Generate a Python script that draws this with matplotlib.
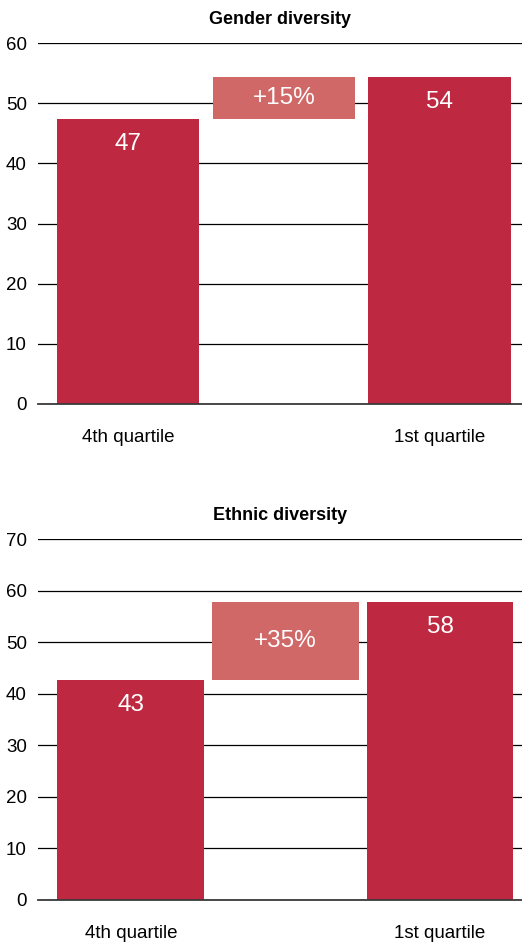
import matplotlib.pyplot as plt

plt.rcParams['font.family'] = ['Liberation Sans', 'DejaVu Sans']

# data
categories = ["4th quartile", "1st quartile"]
gender_values = [47.3, 54.4]
gender_labels = ["47", "54"]
gender_uplift = "+15%"
ethnic_values = [42.6, 57.8]
ethnic_labels = ["43", "58"]
ethnic_uplift = "+35%"

BAR = "#BE2840"
BOX = "#CF6866"


def draw_panel(ax, title, values, labels, uplift, ymax, width, xlim):
    # bars at 0 and 2, uplift box between them at 1
    ax.bar([0, 2], values, width=width, color=BAR, zorder=3)
    ax.bar(1, values[1] - values[0], bottom=values[0], width=width,
           color=BOX, zorder=3)
    ax.text(1, (values[0] + values[1]) / 2, uplift, ha="center", va="center",
            color="white", fontsize=17.5, zorder=4)
    for x, v, lab in zip([0, 2], values, labels):
        ax.annotate(lab, (x, v), xytext=(0, -18), textcoords="offset points",
                    ha="center", va="center", color="white", fontsize=17.5, zorder=4)

    ax.set_ylim(0, ymax)
    ax.set_yticks(range(0, ymax + 1, 10))
    ax.set_xlim(*xlim)
    ax.set_xticks([0, 2])
    ax.set_xticklabels(categories)
    ax.yaxis.grid(True, color="black", linewidth=0.9, zorder=0)
    ax.set_axisbelow(True)
    ax.axhline(0, color="#3a3a3a", linewidth=1.3, zorder=5, clip_on=False)
    for s in ax.spines.values():
        s.set_visible(False)
    ax.tick_params(axis="x", length=0, pad=18, labelsize=13.5)
    ax.tick_params(axis="y", length=0, pad=8, labelsize=13.5)
    ax.set_title(title, fontsize=13, fontweight="bold", pad=14)


fig = plt.figure(figsize=(5.22, 9.42), dpi=100)
left = 38 / 522
w = 1 - left
h = 361 / 942
ax1 = fig.add_axes([left, 1 - 404 / 942, w, h])
ax2 = fig.add_axes([left, 1 - 900 / 942, w, h])

draw_panel(ax1, "Gender diversity", gender_values, gender_labels,
           gender_uplift, 60, 0.913, (-0.58, 2.53))
draw_panel(ax2, "Ethnic diversity", ethnic_values, ethnic_labels,
           ethnic_uplift, 70, 0.95, (-0.60, 2.53))

fig.savefig("out.png", dpi=100)
